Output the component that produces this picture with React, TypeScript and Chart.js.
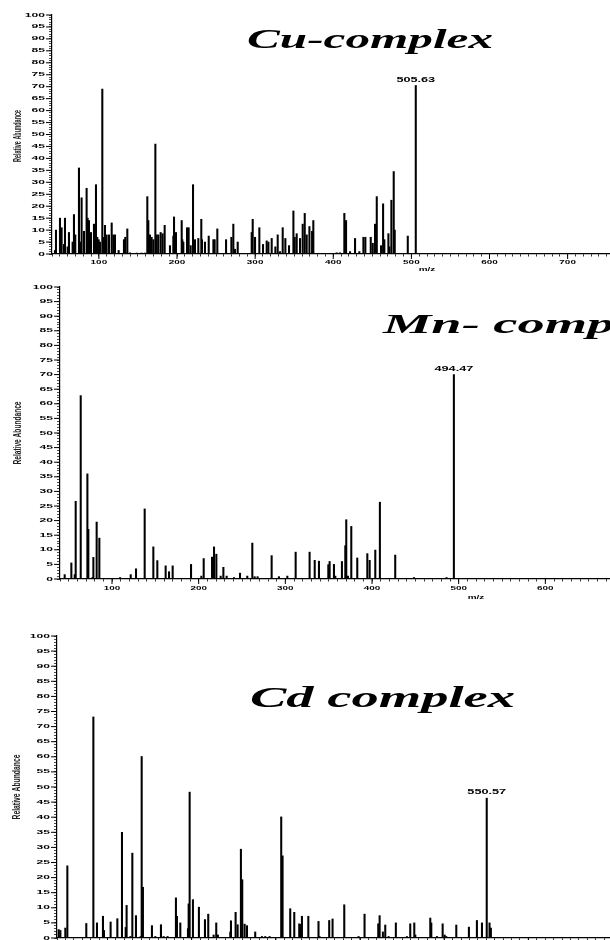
import React, { useEffect, useRef } from "react";
import { Chart, registerables } from "chart.js";

Chart.register(...registerables);

// ---------- data ----------
const cuMz = [
  43.8, 45.1, 50.2, 52.3, 55.3, 56.6, 60.0, 61.7, 66.4, 68.1,
  69.8, 74.5, 75.8, 77.9, 80.9, 84.3, 85.6, 87.3, 89.9, 93.7,
  96.3, 98.0, 99.7, 101.4, 104.4, 106.1, 107.8, 109.9, 112.9, 116.4,
  118.5, 120.6, 125.3, 132.1, 133.8, 136.4, 139.8, 148.4, 154.8, 159.0,
  162.0, 163.3, 165.4, 167.5, 169.7, 172.3, 174.0, 176.1, 179.1, 181.6,
  184.2, 191.0, 195.3, 196.2, 198.7, 206.0, 206.8, 208.1, 212.8, 214.9,
  217.5, 220.5, 223.0, 227.3, 231.1, 232.0, 235.8, 240.6, 246.6, 248.2,
  251.6, 262.8, 269.6, 272.1, 274.3, 277.7, 295.6, 296.9, 299.9, 305.4,
  310.1, 314.8, 317.0, 321.2, 325.9, 328.9, 331.9, 335.3, 338.7, 343.4,
  349.0, 350.7, 353.2, 357.5, 360.9, 363.5, 366.0, 369.5, 372.9, 374.5,
  404.4, 408.7, 414.2, 416.4, 421.5, 427.9, 433.4, 438.6, 441.1, 448.0,
  450.6, 453.5, 454.8, 455.7, 461.2, 463.8, 465.4, 470.6, 471.8, 474.4,
  477.4, 478.7, 495.4, 505.63,
];
const cuAbundance = [
  1.5, 10, 15, 11, 4, 15, 3, 9, 5, 16.5,
  8, 36, 5, 23.5, 9.5, 27.5, 15, 14, 9, 12.5,
  29, 7, 6, 5, 69, 7, 12, 8, 8, 13,
  8, 8, 1.5, 6, 7, 10.5, 0.5, 0.4, 0.4, 0.4,
  24, 14, 8, 7, 6, 46, 8, 8, 9, 8.5,
  12, 3.5, 7.5, 15.5, 9, 14, 6, 5, 11, 11,
  3.5, 29, 6, 6.5, 14.5, 6, 5, 7.5, 6, 6,
  10.5, 6, 7, 12.5, 2, 5, 9, 14.5, 7, 11,
  4, 5.5, 5, 6.5, 3, 8, 1, 11, 6.5, 3.5,
  18, 7, 8.5, 6.5, 12.5, 17, 8, 11.5, 9.5, 14,
  0.5, 0.5, 17, 14, 1, 6.5, 1, 7, 7, 7,
  4.5, 12.5, 6, 24, 3.5, 21, 6, 8.5, 3, 22.5,
  34.5, 10, 7.5, 70.5,
];
const cuLabeledPeaks = [505.63];

const mnMz = [
  45.4, 53.1, 57.0, 58.1, 63.9, 71.6, 72.7, 77.4, 78.5, 82.3,
  85.4, 109.3, 121.6, 127.7, 137.7, 147.7, 152.3, 161.9, 165.8, 170.0,
  191.2, 203.1, 205.8, 215.4, 217.7, 220.4, 225.4, 228.5, 232.3, 240.8,
  247.7, 256.1, 261.9, 264.6, 268.0, 284.2, 292.6, 302.3, 311.9, 328.0,
  333.9, 338.8, 349.6, 351.1, 356.1, 357.7, 365.3, 369.2, 370.3, 372.3,
  376.1, 383.0, 394.6, 397.3, 403.8, 409.1, 426.8, 448.4, 486.0, 494.47,
];
const mnAbundance = [
  1.5, 5.5, 1.5, 26.6, 62.8, 36, 17, 0.5, 7.4, 19.5,
  14, 0.5, 1.5, 3.5, 24, 11, 6.3, 4.5, 2.5, 4.5,
  5, 1, 7, 7.5, 11, 8.5, 1, 4, 1, 0.5,
  2, 1, 12.3, 0.8, 0.8, 8, 0.8, 1, 9.2, 9.2,
  6.4, 6.1, 4.9, 6, 5, 1, 6, 11.4, 20.3, 1,
  18, 7.2, 8.7, 6.4, 9.9, 26.3, 8.2, 0.5, 0.5, 70,
];
const mnLabeledPeaks = [494.47];

const cdMz = [
  42.0, 44.0, 49.9, 52.3, 74.8, 83.2, 87.5, 94.6, 95.8, 103.7,
  111.7, 117.2, 121.6, 122.7, 127.1, 129.5, 133.8, 139.4, 140.6, 142.1,
  152.8, 156.8, 163.5, 166.7, 171.4, 181.3, 182.5, 186.5, 195.6, 196.4,
  197.6, 201.5, 208.6, 215.8, 219.7, 226.1, 229.2, 231.2, 245.9, 246.7,
  252.2, 254.6, 258.5, 260.1, 262.9, 265.7, 275.5, 283.5, 287.4, 292.6,
  306.4, 308.0, 317.1, 321.9, 327.8, 329.8, 331.0, 338.6, 350.7, 351.9,
  363.4, 367.4, 381.3, 398.3, 405.4, 421.7, 423.3, 427.2, 430.0, 434.0,
  442.6, 455.7, 459.7, 464.5, 465.7, 483.5, 484.7, 491.4, 498.2, 500.6,
  502.5, 514.4, 529.4, 538.9, 544.9, 550.57, 553.9, 555.5,
];
const cdAbundance = [
  2.8, 2.5, 3.3, 23.9, 4.8, 73.2, 5, 7.2, 2.5, 5.3,
  6.4, 35, 3.5, 10.8, 0.5, 28.1, 7.4, 0.5, 60.1, 16.8,
  4.1, 0.5, 4.4, 0.5, 0.5, 13.3, 7.2, 5, 3.1, 11.3,
  48.3, 12.7, 10.2, 6.1, 7.9, 1, 5, 1, 2, 5.7,
  8.5, 4.4, 29.4, 19.3, 4.6, 4.1, 2, 0.5, 0.5, 0.5,
  40.1, 27.2, 9.7, 8.5, 4.7, 4.5, 7.2, 7.2, 5.5, 0.5,
  5.8, 6.3, 11, 0.5, 7.9, 4.7, 7.4, 2, 4.3, 0.5,
  5, 0.5, 4.7, 5, 1, 6.6, 5, 0.5, 4.7, 1,
  0.5, 4.3, 3.6, 5.8, 5, 46.3, 5, 3.3,
];
const cdLabeledPeaks = [550.57];

const panelTitles = ["Cu-complex", "Mn- complex", "Cd complex"];
const yMajorTicks = [0, 5, 10, 15, 20, 25, 30, 35, 40, 45, 50, 55, 60, 65, 70, 75, 80, 85, 90, 95, 100];
const xMajorTicks = [100, 200, 300, 400, 500, 600, 700, 800, 900, 1000];
const xAxisTitle = "m/z";
const yAxisTitle = "Relative Abundance";
const mzRange = [40, 1000];
const abundanceRange = [0, 100];

// minor tick positions (every 10 m/z, every 1 % abundance)
const xMinorTicks: number[] = [];
for (let v = mzRange[0]; v <= mzRange[1]; v += 10) xMinorTicks.push(v);
const yMinorTicks: number[] = [];
for (let v = abundanceRange[0]; v <= abundanceRange[1]; v += 1) yMinorTicks.push(v);

// ---------- layout / style per panel ----------
type PanelCfg = {
  mz: number[];
  ab: number[];
  peaks: number[];
  title: string;
  top: number;
  width: number;
  height: number;
  axisLeft: number;
  plotTop: number;
  xAxisHeight: number;
  titleLeft: number;
  titleBaseline: number;
  titleSize: number;
  titleRef: string;
  titleRefWidth: number;
  yTitleX: number;
  yTitleY: number;
  yTitleLen: number;
  xLabelOffset: number;
  xTitleOffset: number;
};

const panels: PanelCfg[] = [
  {
    mz: cuMz, ab: cuAbundance, peaks: cuLabeledPeaks, title: panelTitles[0],
    top: 0, width: 802, height: 280, axisLeft: 52, plotTop: 15, xAxisHeight: 26,
    titleLeft: 247, titleBaseline: 48, titleSize: 28, titleRef: "Cu-complex", titleRefWidth: 246,
    yTitleX: 17.5, yTitleY: 136, yTitleLen: 52, xLabelOffset: 8, xTitleOffset: 15,
  },
  {
    mz: mnMz, ab: mnAbundance, peaks: mnLabeledPeaks, title: panelTitles[1],
    top: 280, width: 892, height: 330, axisLeft: 60, plotTop: 7, xAxisHeight: 31,
    titleLeft: 383, titleBaseline: 53, titleSize: 28, titleRef: "Mn- com", titleRefWidth: 204,
    yTitleX: 18, yTitleY: 153, yTitleLen: 63, xLabelOffset: 9, xTitleOffset: 18,
  },
  {
    mz: cdMz, ab: cdAbundance, peaks: cdLabeledPeaks, title: panelTitles[2],
    top: 610, width: 865, height: 360, axisLeft: 57, plotTop: 26, xAxisHeight: 32,
    titleLeft: 250, titleBaseline: 97, titleSize: 30, titleRef: "Cd complex", titleRefWidth: 265,
    yTitleX: 16.5, yTitleY: 177, yTitleLen: 65, xLabelOffset: 9, xTitleOffset: 18,
  },
];

const SANS = '"Liberation Sans", Arial, sans-serif';
const SERIF = '"Liberation Serif", "Times New Roman", serif';

function drawText(
  ctx: CanvasRenderingContext2D, text: string, x: number, y: number,
  font: string, sx: number, align: CanvasTextAlign, baseline: CanvasTextBaseline
) {
  ctx.save();
  ctx.font = font;
  ctx.textAlign = align;
  ctx.textBaseline = baseline;
  ctx.translate(x, y);
  ctx.scale(sx, 1);
  ctx.fillText(text, 0, 0);
  ctx.restore();
}

function makeDecor(cfg: PanelCfg) {
  return {
    id: "msDecor",
    afterDraw(chart: any) {
      const { ctx, chartArea: a } = chart;
      const xs = chart.scales.x;
      const ys = chart.scales.y;
      ctx.save();
      ctx.fillStyle = "#000";
      ctx.strokeStyle = "#000";
      ctx.lineWidth = 1;

      // y major ticks + labels
      for (const v of yMajorTicks) {
        const py = ys.getPixelForValue(v);
        ctx.beginPath();
        ctx.moveTo(a.left - 6, py);
        ctx.lineTo(a.left, py);
        ctx.stroke();
        drawText(ctx, String(v), a.left - 7, py, `bold 5.5px ${SANS}`, 2.2, "right", "middle");
      }
      // x major ticks + labels
      for (const v of xMajorTicks) {
        const px = xs.getPixelForValue(v);
        ctx.beginPath();
        ctx.moveTo(px, a.bottom);
        ctx.lineTo(px, a.bottom + 5);
        ctx.stroke();
        drawText(ctx, String(v), px, a.bottom + cfg.xLabelOffset, `bold 5.5px ${SANS}`, 1.8, "center", "middle");
      }
      // x axis title
      drawText(ctx, xAxisTitle, (xs.left + xs.right) / 2, a.bottom + cfg.xTitleOffset, `bold 5.5px ${SANS}`, 1.8, "center", "middle");

      // y axis title (rotated, condensed)
      ctx.save();
      ctx.font = `bold 11px ${SANS}`;
      const w = ctx.measureText(yAxisTitle).width;
      ctx.translate(cfg.yTitleX, cfg.yTitleY);
      ctx.rotate(-Math.PI / 2);
      ctx.scale(cfg.yTitleLen / w, 1);
      ctx.textAlign = "center";
      ctx.textBaseline = "middle";
      ctx.fillStyle = "#222";
      ctx.fillText(yAxisTitle, 0, 0);
      ctx.restore();

      // labelled peaks
      for (const m of cfg.peaks) {
        const idx = cfg.mz.indexOf(m);
        const val = idx >= 0 ? cfg.ab[idx] : 0;
        const px = xs.getPixelForValue(m);
        const py = ys.getPixelForValue(val);
        drawText(ctx, m.toFixed(2), px, py - 4, `bold 6.5px ${SANS}`, 1.95, "center", "alphabetic");
      }

      // panel title
      ctx.save();
      const tf = `italic bold ${cfg.titleSize}px ${SERIF}`;
      ctx.font = tf;
      const refW = ctx.measureText(cfg.titleRef).width;
      ctx.restore();
      drawText(ctx, cfg.title, cfg.titleLeft, cfg.titleBaseline, tf, cfg.titleRefWidth / refW, "left", "alphabetic");

      ctx.restore();
    },
  };
}

function SpectrumPanel({ cfg }: { cfg: PanelCfg }) {
  const ref = useRef<HTMLCanvasElement>(null);
  useEffect(() => {
    const canvas = ref.current;
    if (!canvas) return;
    const chart = new Chart(canvas, {
      type: "bar",
      data: {
        datasets: [
          {
            data: cfg.mz.map((m, i) => ({ x: m, y: cfg.ab[i] })),
            backgroundColor: "#000",
            borderWidth: 0,
            barThickness: 1.4,
          } as any,
        ],
      },
      options: {
        animation: false,
        responsive: false,
        events: [],
        layout: { padding: { top: cfg.plotTop, left: 0, right: 0, bottom: 0 } },
        plugins: {
          legend: { display: false },
          tooltip: { enabled: false },
          title: { display: false },
        },
        scales: {
          x: {
            type: "linear",
            min: mzRange[0],
            max: mzRange[1],
            offset: false,
            afterBuildTicks: (s: any) => {
              s.ticks = xMinorTicks.map((v) => ({ value: v }));
            },
            afterFit: (s: any) => {
              s.height = cfg.xAxisHeight;
            },
            ticks: { display: false },
            grid: {
              display: true,
              drawOnChartArea: false,
              drawTicks: true,
              tickLength: 2.5,
              color: "#000",
              lineWidth: 0.8,
              offset: false,
            },
            border: { display: true, color: "#000", width: 1.2 },
          },
          y: {
            type: "linear",
            min: abundanceRange[0],
            max: abundanceRange[1],
            afterBuildTicks: (s: any) => {
              s.ticks = yMinorTicks.map((v) => ({ value: v }));
            },
            afterFit: (s: any) => {
              s.width = cfg.axisLeft;
            },
            ticks: { display: false },
            grid: {
              display: true,
              drawOnChartArea: false,
              drawTicks: true,
              tickLength: 3,
              color: "#000",
              lineWidth: 0.7,
            },
            border: { display: true, color: "#000", width: 1.2 },
          },
        },
      } as any,
      plugins: [makeDecor(cfg)],
    });
    return () => chart.destroy();
  }, [cfg]);
  return (
    <canvas
      ref={ref}
      width={cfg.width}
      height={cfg.height}
      style={{ position: "absolute", left: 0, top: cfg.top, width: cfg.width, height: cfg.height, display: "block" }}
    />
  );
}

export default function App() {
  return (
    <div
      style={{
        position: "fixed",
        left: 0,
        top: 0,
        width: 610,
        height: 940,
        overflow: "hidden",
        background: "#fff",
      }}
    >
      {panels.map((p, i) => (
        <SpectrumPanel key={i} cfg={p} />
      ))}
    </div>
  );
}
